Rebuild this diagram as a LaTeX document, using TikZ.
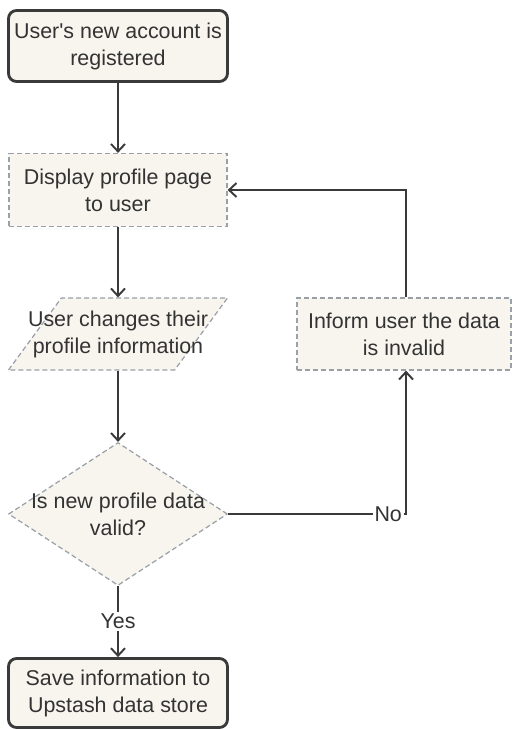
\documentclass[tikz,border=0pt]{standalone}
\usepackage{fontspec}
\setmainfont{Liberation Sans}
\usetikzlibrary{shapes.geometric, arrows.meta, positioning, calc}
\definecolor{Ink}{HTML}{333333}
\definecolor{Edge}{HTML}{3A3A3A}
\definecolor{Dash}{HTML}{9AA0A8}
\definecolor{Paper}{HTML}{F7F5EE}

\begin{document}
\begin{tikzpicture}[x=0.02cm, y=-0.02cm,
            every node/.style={font=\fontsize{12.2pt}{15.4pt}\selectfont, text=Ink},
            terminal/.style={rectangle, rounded corners=0.16cm, draw=Edge, line width=1.6pt, fill=Paper, minimum height=1.42cm, minimum width=4.38cm, align=center, inner sep=1pt},
            process/.style={rectangle, draw=Dash, line width=0.7pt, dash pattern=on 0.1cm off 0.06cm, fill=Paper, minimum height=1.46cm, minimum width=4.36cm, align=center},
            inout/.style={trapezium, trapezium left angle=65, trapezium right angle=115, trapezium stretches=true, draw=Dash, line width=0.7pt, dash pattern=on 0.1cm off 0.06cm, fill=Paper, minimum height=1.44cm, minimum width=4.38cm, inner sep=1pt},
            decision/.style={diamond, draw=Dash, line width=0.7pt, dash pattern=on 0.1cm off 0.06cm, fill=Paper, minimum height=2.86cm, minimum width=4.38cm, inner sep=1pt},
            inner/.style={align=center},
            arrow/.style={-{Straight Barb[length=0.15cm, width=0.28cm]}, line width=1.1pt, color=Edge},
            lbl/.style={fill=white, inner sep=1pt}
        ]
            \useasboundingbox (0,0) rectangle (511,729);

            % Main flow (left column)
            \node[terminal] (start) at (118,46) {User\textquotesingle s new account is\\registered};
            \node[process] (disp) at (118,190) {Display profile page\\to user};
            \node[inout, label={[inner]center:User changes their\\profile information}] (chg) at (118,334) {};
            \node[decision, label={[inner]center:Is new profile data\\valid?}] (valid) at (118,514) {};
            \node[terminal, minimum height=1.38cm] (save) at (118,693) {Save information to\\Upstash data store};

            % Error branch (right)
            \node[process, minimum width=4.28cm, minimum height=1.44cm] (inform) at (404,334) {Inform user the data\\is invalid};

            % Arrows
            \draw[arrow] (start) -- (disp);
            \draw[arrow] (disp) -- (chg);
            \draw[arrow] (chg) -- (valid);
            \draw[arrow] (valid.south) -- node[lbl]{Yes} (save.north);
            \draw[arrow] (valid.east) -| node[lbl, pos=0.45]{No} ($(inform.south)+(2,0)$);
            \draw[arrow] ($(inform.north)+(2,0)$) |- (disp.east);
        \end{tikzpicture}
\end{document}
